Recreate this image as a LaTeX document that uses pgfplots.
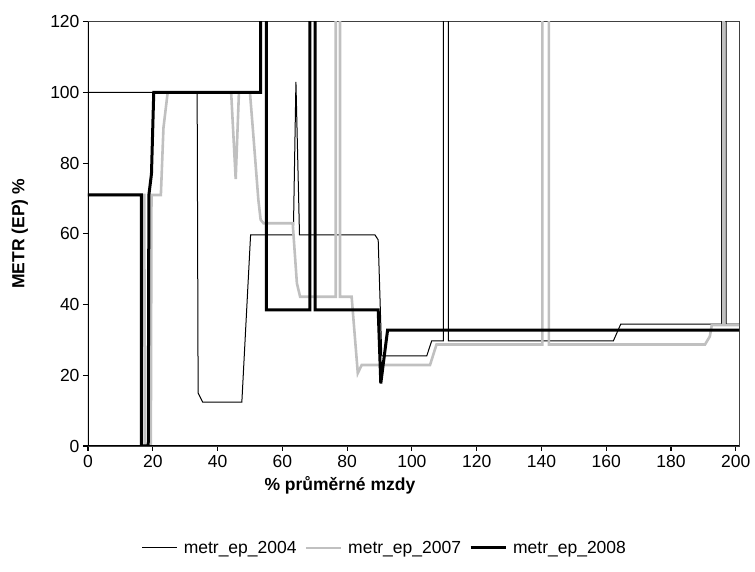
\documentclass[border=0pt]{standalone}
\usepackage{fontspec}
\setmainfont{Liberation Sans}
\usepackage{pgfplots}
\pgfplotsset{compat=1.18}
\definecolor{ser07}{RGB}{192,192,192}

\begin{document}
\begin{tikzpicture}[x=1pt,y=1pt]
\useasboundingbox (-88,-126) rectangle (667,446);
\begin{axis}[
  at={(0,0)}, anchor=south west,
  scale only axis, width=651pt, height=424.3pt,
  xmin=0, xmax=201, ymin=0, ymax=120,
  xtick={0,20,...,200}, ytick={0,20,...,120},
  tick align=outside, tick pos=left,
  major tick length=5pt,
  every tick/.style={black, line width=1.2pt},
  axis line style={draw=black!75, line width=0.8pt},
  /pgf/number format/assume math mode=true,
  ticklabel style={font=\fontsize{17.5}{20}\selectfont},
  xticklabel style={yshift=-1pt},
  xlabel={\bfseries\% průměrné mzdy},
  ylabel={\bfseries METR (EP) \%},
  label style={font=\fontsize{17.5}{20}\selectfont},
  xlabel style={at={(axis description cs:0.387,-0.092)}, anchor=center},
  ylabel style={at={(axis description cs:-0.1045,0.5)}, anchor=center},
  legend columns=3,
  legend style={at={(axis description cs:0.456,-0.24)}, anchor=center,
    draw=none, font=\fontsize{17.5}{20}\selectfont,
    /tikz/every odd column/.append style={column sep=4pt},
    /tikz/every even column/.append style={column sep=6pt}},
  legend image code/.code={\draw[#1] (0pt,0pt) -- (35pt,0pt);},
]
% METR 2004
\addplot[black, line width=1pt] coordinates {
  (0,100) (33.7,100) (34.0,15) (35.4,12.4) (47.5,12.4) (50.2,59.7)
  (63.4,59.7) (64.2,103) (65.3,59.7) (88.6,59.7) (89.6,58.3) (90.7,25.5)
  (104.6,25.5) (106.1,29.7) (109.7,29.7) (109.7,500) (111.3,500) (111.3,29.7)
  (162.2,29.7) (164.5,34.5) (195.6,34.5) (195.6,500) (197.0,500) (197.0,34.5)
  (201,34.5)
};
\addlegendentry{metr\_ep\_2004}
% METR 2007
\addplot[ser07, line width=2.6pt] coordinates {
  (0,71) (17.4,71) (17.5,0) (19.4,0) (19.6,71) (22.5,71) (23.3,90)
  (24.6,100) (44.2,100) (45.6,75.5) (46.6,100) (50,100) (51,88.5)
  (52.6,69.6) (53.3,64) (54.2,63) (63.2,63) (64.5,46) (65.5,42.2)
  (76.5,42.2) (76.5,500) (77.8,500) (77.8,42.2) (81.4,42.2) (83.3,20.6)
  (84.5,22.9) (105.6,22.9) (107.6,28.7) (140.3,28.7) (140.3,500)
  (142.3,500) (142.3,28.7) (190.5,28.7) (192,31) (192.6,34.2) (196.15,34.2)
  (196.15,500) (196.35,500) (196.35,34.2) (201,34.2)
};
\addlegendentry{metr\_ep\_2007}
% METR 2008
\addplot[black, line width=3pt] coordinates {
  (0,71) (16.5,71) (16.5,0) (18.6,0) (18.8,71) (19.6,77) (20.3,100)
  (53.3,100) (53.3,500) (55.1,500) (55.1,38.5) (68.5,38.5) (68.5,500)
  (70.1,500) (70.1,38.5) (89.6,38.5) (90.4,17.7) (92.5,32.8) (201,32.8)
};
\addlegendentry{metr\_ep\_2008}
\draw[black, line width=2pt] (rel axis cs:0,0) -- (rel axis cs:0,1);
\draw[black, line width=2pt] (rel axis cs:0,0) -- (rel axis cs:1,0);
\end{axis}
\end{tikzpicture}
\end{document}
